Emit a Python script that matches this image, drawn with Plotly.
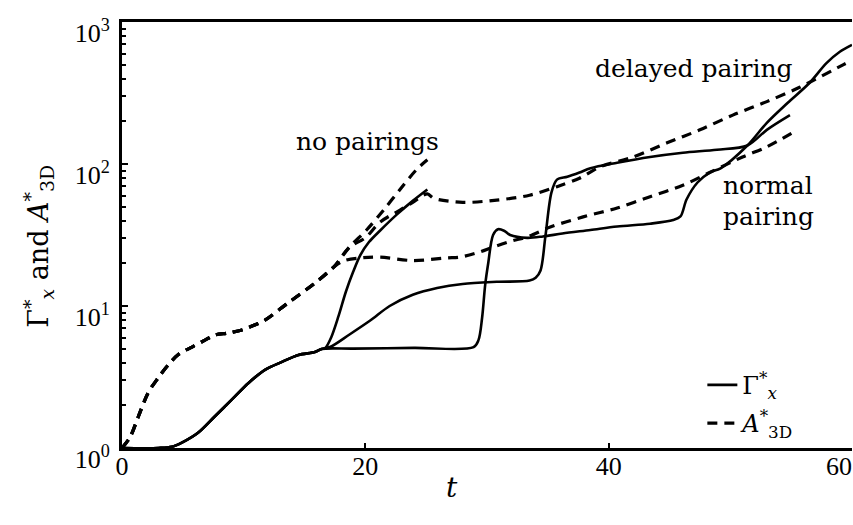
import plotly.graph_objects as go

# ---- data ----
# solid curves: Gamma_x*
t_common_s = [0, 3.0, 4.1, 5.0, 6.25, 7.6, 9.0, 10.4, 11.75, 13.15, 14.5, 15.86, 16.4]
g_common_s = [1.0, 1.0, 1.02, 1.10, 1.28, 1.66, 2.18, 2.87, 3.55, 4.04, 4.52, 4.74, 4.98]

t_nopair_s = [16.7, 17.2, 17.8, 18.4, 19.0, 19.6, 20.3, 21.2, 22.6, 23.9, 25.1]
g_nopair_s = [5.05, 6.03, 8.51, 12.6, 17.4, 22.9, 28.2, 33.9, 44.2, 55.0, 66.1]

t_slow_s = [17.1, 18.7, 20.4, 22.0, 23.9, 25.9, 28.0, 30.8, 33.5, 34.0, 34.4, 34.8, 35.3,
            35.75, 36.6, 37.6, 38.5, 40.7, 43.4, 46.1, 48.9, 51.4, 53.0, 54.9]
g_slow_s = [5.14, 6.3, 7.9, 10.0, 12.0, 13.4, 14.3, 14.8, 15.1, 15.8, 17.8, 30.9, 63.1,
            77.6, 81.3, 87.1, 93.3, 102, 112, 120, 126, 135, 174, 221]

t_late_s = [19.0, 24.0, 28.9, 29.3, 29.6, 29.85, 30.1, 30.5, 30.9, 31.4, 31.9, 33.3, 34.6,
            36.2, 38.5, 40.7, 43.4, 45.3, 45.9, 46.4, 47.3, 48.3, 49.2, 51.4, 53.0, 54.7,
            56.5, 57.9, 59.0, 60.0]
g_late_s = [5.01, 5.07, 5.13, 5.75, 8.3, 14.1, 20.0, 31.6, 34.7, 33.9, 31.6, 30.2, 30.9,
            32.4, 34.3, 36.3, 38.0, 40.3, 42.7, 56.2, 74.1, 87.1, 93.3, 135, 195, 269,
            372, 513, 617, 690]

# dashed curves: A_3D*
t_common_d = [0, 0.66, 1.34, 2.14, 2.95, 3.8, 4.63, 5.75, 6.82, 7.64, 8.74, 9.86, 10.9,
              11.75, 13.64, 15.86, 17.4]
a_common_d = [1.0, 1.19, 1.66, 2.44, 3.1, 3.85, 4.55, 5.14, 5.75, 6.25, 6.46, 6.78, 7.35,
              7.96, 10.5, 14.5, 18.8]

t_nopair_d = [18.7, 20.1, 21.5, 22.85, 24.2, 25.1]
a_nopair_d = [26.0, 34.3, 47.4, 66.1, 91.2, 107]

t_normal_d = [18.3, 19.8, 21.2, 23.9, 26.7, 27.8, 29.4, 30.5, 32.1, 33.3, 35.2, 37.9, 40.7,
              43.4, 46.1, 48.3, 51.0, 53.0, 55.1]
a_normal_d = [20.9, 21.9, 22.1, 20.9, 21.8, 22.1, 24.0, 26.0, 28.8, 30.6, 36.0, 42.4, 49.0,
              58.9, 70.8, 87.1, 112, 132, 166]

t_delay_d = [18.7, 20.0, 21.2, 22.85, 23.9, 25.1, 25.6, 28.0, 30.8, 33.5, 35.75, 37.6, 39.3,
             42.0, 44.8, 47.5, 50.2, 53.0, 55.7, 59.3, 60.0]
a_delay_d = [26.0, 30.2, 38.9, 47.4, 53.7, 61.7, 57.5, 53.7, 55.7, 60.3, 69.2, 79.4, 95.5,
             112, 141, 174, 221, 275, 347, 501, 537]

x_ticks = [0, 20, 40, 60]
x_ticktext = ["0", "20", "40", "60\u00a0\u00a0\u00a0\u00a0"]
y_ticks = [1, 10, 100, 1000]
y_ticktext = ["10<sup>0</sup>", "10<sup>1</sup>", "10<sup>2</sup>", "10<sup>3</sup>"]

SERIF = "DejaVu Serif"
TICKFONT = "Liberation Serif"

fig = go.Figure()

solid_runs = [(t_nopair_s, g_nopair_s), (t_slow_s, g_slow_s), (t_late_s, g_late_s)]
for i, (tt, gg) in enumerate(solid_runs):
    fig.add_trace(go.Scatter(
        x=t_common_s + tt, y=g_common_s + gg, mode="lines",
        line=dict(color="black", width=2.6, shape="spline", smoothing=0.9),
        name="Γ<sup>*</sup><sub><i>x</i></sub>", legendgroup="g",
        showlegend=(i == 0), hoverinfo="skip"))

dashed_runs = [(t_nopair_d, a_nopair_d), (t_normal_d, a_normal_d), (t_delay_d, a_delay_d)]
for i, (tt, aa) in enumerate(dashed_runs):
    fig.add_trace(go.Scatter(
        x=t_common_d + tt, y=a_common_d + aa, mode="lines",
        line=dict(color="black", width=3.2, dash="10px,7px", shape="spline", smoothing=0.9),
        name="<i>A</i><sup>*</sup><sub>3D</sub>", legendgroup="a",
        showlegend=(i == 0), hoverinfo="skip"))

fig.update_layout(
    template="none",
    width=853, height=525,
    margin=dict(l=122, r=1, t=22, b=77),
    plot_bgcolor="white", paper_bgcolor="white",
    font=dict(family=SERIF, color="black", size=24),
    legend=dict(x=0.795, y=0.2, xanchor="left", yanchor="top",
                bgcolor="rgba(0,0,0,0)", font=dict(family=SERIF, size=24),
                tracegroupgap=4),
    xaxis=dict(range=[0, 60], tickvals=x_ticks, ticktext=x_ticktext,
               ticks="inside", ticklen=5, tickwidth=2, tickcolor="black",
               showline=True, linewidth=3, linecolor="black", mirror=True,
               showgrid=False, zeroline=False, automargin=False,
               ticklabeloverflow="allow", ticklabelstandoff=-7,
               tickfont=dict(family=TICKFONT, size=26, color="black")),
    yaxis=dict(type="log", range=[0, 3], tickvals=y_ticks, ticktext=y_ticktext,
               ticks="inside", ticklen=6, tickwidth=2, tickcolor="black",
               minor=dict(ticks="inside", ticklen=4, tickwidth=1.5, tickcolor="black",
                          tickvals=[2, 3, 4, 5, 6, 7, 8, 9, 20, 30, 40, 50, 60, 70, 80, 90,
                                    200, 300, 400, 500, 600, 700, 800, 900]),
               showline=True, linewidth=3, linecolor="black", mirror=False,
               showgrid=False, zeroline=False, automargin=False,
               ticklabelstandoff=4, ticklabelshift=11, ticklabeloverflow="allow",
               tickfont=dict(family=TICKFONT, size=26, color="black")),
    annotations=[
        dict(text="no pairings", x=20.2, y=2.155, xref="x", yref="y", showarrow=False,
             font=dict(family=SERIF, size=25)),
        dict(text="delayed pairing", x=47.0, y=2.67, xref="x", yref="y", showarrow=False,
             font=dict(family=SERIF, size=25)),
        dict(text="normal", x=49.2, y=1.85, xref="x", yref="y", xanchor="left",
             showarrow=False, font=dict(family=SERIF, size=25)),
        dict(text="pairing", x=49.2, y=1.63, xref="x", yref="y", xanchor="left",
             showarrow=False, font=dict(family=SERIF, size=25)),
        dict(text="<i>t</i>", x=0.452, y=-0.135, xref="paper", yref="paper",
             showarrow=False, font=dict(family=SERIF, size=28)),
        dict(text="Γ<sup>*</sup><sub><i>x</i></sub> and <i>A</i><sup>*</sup><sub>3D</sub>",
             x=-0.145, y=0.474, xref="paper", yref="paper", textangle=-90,
             showarrow=False, font=dict(family=SERIF, size=27)),
    ],
)

fig.write_html("out.html")
